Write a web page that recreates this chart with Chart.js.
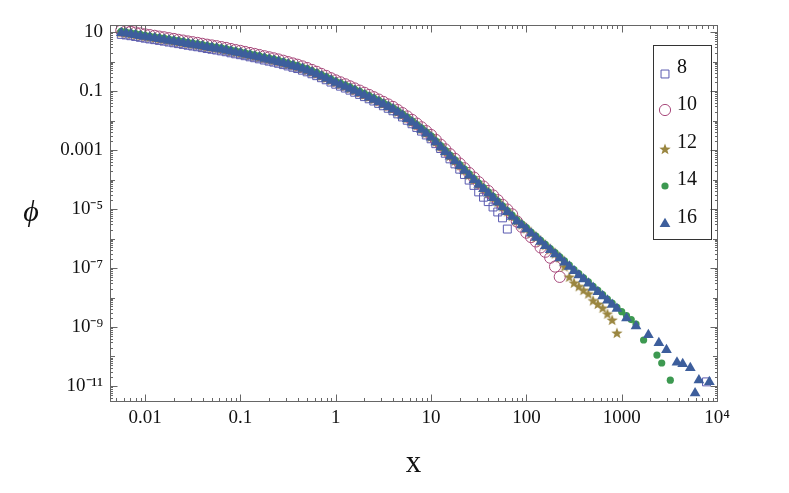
<!DOCTYPE html>
<html>
<head>
<meta charset="utf-8">
<script src="https://cdn.jsdelivr.net/npm/chart.js@4.4.1/dist/chart.umd.min.js"></script>
<style>
  html, body { margin: 0; padding: 0; background: #fff; }
  #c { display: block; }
</style>
</head>
<body>
<canvas id="c" width="789" height="493"></canvas>
<script>
// shared x grid (log bins, 20 per decade)
const xGrid = [0.00562, 0.00631, 0.00708, 0.00794, 0.00891,
    0.01, 0.0112, 0.0126, 0.0141, 0.0158, 0.0178, 0.02, 0.0224, 0.0251, 0.0282,
    0.0316, 0.0355, 0.0398, 0.0447, 0.0501, 0.0562, 0.0631, 0.0708, 0.0794, 0.0891,
    0.1, 0.112, 0.126, 0.141, 0.158, 0.178, 0.2, 0.224, 0.251, 0.282,
    0.316, 0.355, 0.398, 0.447, 0.501, 0.562, 0.631, 0.708, 0.794, 0.891,
    1, 1.12, 1.26, 1.41, 1.58, 1.78, 2, 2.24, 2.51, 2.82,
    3.16, 3.55, 3.98, 4.47, 5.01, 5.62, 6.31, 7.08, 7.94, 8.91,
    10, 11.2, 12.6, 14.1, 15.8, 17.8, 20, 22.4, 25.1, 28.2,
    31.6, 35.5, 39.8, 44.7, 50.1, 56.2, 63.1, 70.8, 79.4, 89.1,
    100, 112, 126, 141, 158, 178, 200, 224, 251, 282,
    316, 355, 398, 447, 501, 562, 631, 708, 794, 891,
    1000, 1122, 1259, 1413];

// L = 8
const phi8 = [8.31, 7.94, 7.49, 7.07, 6.60, 6.17, 5.82, 5.50, 5.19, 4.90,
    4.57, 4.31, 4.03, 3.80, 3.55, 3.35, 3.16, 2.95, 2.75, 2.60,
    2.45, 2.29, 2.14, 1.97, 1.82, 1.70, 1.57, 1.44, 1.34, 1.23,
    1.12, 1.03, 0.953, 0.870, 0.785, 0.707, 0.638, 0.576, 0.507, 0.446,
    0.384, 0.331, 0.282, 0.240, 0.201, 0.170, 0.146, 0.126, 0.107, 0.0909,
    0.0767, 0.0645, 0.0544, 0.0457, 0.0380, 0.0316, 0.0260, 0.0214, 0.0168, 0.0132,
    0.0102, 0.00776, 0.00582, 0.00437, 0.00323, 0.00240, 0.00164, 0.00112, 7.76e-4,
    5.01e-4, 3.39e-4, 2.24e-4, 1.48e-4, 9.55e-5, 6.31e-5, 3.80e-5, 2.51e-5, 1.78e-5, 1.17e-5,
    7.94e-6, 5.01e-6, 2.09e-6];
const tail8X = [7762];
const tail8Y = [1.38e-11];

// L = 10
const phi10 = [11.2, 10.7, 10.1, 9.53, 8.89, 8.30, 7.84, 7.40, 6.98, 6.60,
    6.16, 5.81, 5.42, 5.12, 4.78, 4.51, 4.26, 3.97, 3.71, 3.50,
    3.30, 3.08, 2.88, 2.65, 2.45, 2.29, 2.11, 1.94, 1.80, 1.66,
    1.51, 1.39, 1.28, 1.17, 1.06, 0.953, 0.859, 0.775, 0.683, 0.601,
    0.517, 0.446, 0.379, 0.323, 0.271, 0.229, 0.197, 0.169, 0.144, 0.122,
    0.103, 0.0869, 0.0732, 0.0616, 0.0512, 0.0426, 0.0350, 0.0288, 0.0226, 0.0178,
    0.0137, 0.0105, 0.00784, 0.00588, 0.00436, 0.00323, 0.00221, 0.00151, 1.05e-3, 7.24e-4,
    5.0e-4, 3.46e-4, 2.4e-4, 1.66e-4, 1.16e-4, 8.11e-5, 5.75e-5, 4.07e-5, 2.88e-5, 1.99e-5,
    1.38e-5, 9.53e-6, 6.6e-6, 3.80e-6, 2.51e-6, 1.58e-6, 1.12e-6, 7.94e-7, 5.01e-7, 3.55e-7,
    2.24e-7, 1.12e-7, 5.01e-8];

// L = 12
const phi12 = [9.80, 9.36, 8.83, 8.34, 7.78, 7.27, 6.86, 6.48, 6.11, 5.78,
    5.39, 5.08, 4.75, 4.48, 4.18, 3.95, 3.73, 3.48, 3.24, 3.07,
    2.89, 2.70, 2.52, 2.32, 2.14, 2.01, 1.85, 1.70, 1.58, 1.45,
    1.32, 1.22, 1.12, 1.03, 0.925, 0.834, 0.752, 0.678, 0.597, 0.526,
    0.453, 0.391, 0.332, 0.282, 0.237, 0.201, 0.172, 0.148, 0.126, 0.107,
    0.0904, 0.0760, 0.0641, 0.0539, 0.0448, 0.0373, 0.0307, 0.0252, 0.0197, 0.0155,
    0.0120, 0.00915, 0.00686, 0.00515, 0.00381, 0.00282, 0.00193, 0.00132, 9.15e-4, 6.33e-4,
    4.38e-4, 3.02e-4, 2.10e-4, 1.45e-4, 1.01e-4, 7.10e-5, 5.03e-5, 3.56e-5, 2.52e-5, 1.74e-5,
    1.21e-5, 8.34e-6, 5.78e-6, 3.99e-6, 2.96e-6, 2.19e-6, 1.55e-6, 1.12e-6, 8.15e-7, 5.90e-7,
    4.27e-7, 3.10e-7, 2.25e-7, 1.12e-7, 5.01e-8, 3.16e-8, 2.40e-8, 1.78e-8, 1.35e-8, 7.94e-9,
    6.03e-9, 4.47e-9, 2.82e-9, 1.74e-9, 6.31e-10];

// L = 14
const phi14 = [10.5, 10.0, 9.44, 8.91, 8.31, 7.76, 7.33, 6.92, 6.53, 6.17,
    5.76, 5.43, 5.07, 4.79, 4.47, 4.22, 3.98, 3.71, 3.47, 3.28,
    3.09, 2.88, 2.69, 2.48, 2.29, 2.14, 1.97, 1.82, 1.68, 1.55,
    1.41, 1.30, 1.20, 1.10, 0.988, 0.891, 0.803, 0.725, 0.638, 0.562,
    0.484, 0.417, 0.355, 0.302, 0.254, 0.214, 0.184, 0.158, 0.135, 0.114,
    0.0966, 0.0812, 0.0684, 0.0576, 0.0479, 0.0398, 0.0328, 0.0269, 0.0211, 0.0166,
    0.0128, 0.00977, 0.00733, 0.00550, 0.00407, 0.00302, 0.00206, 0.00141, 9.77e-4, 6.77e-4,
    4.68e-4, 3.23e-4, 2.24e-4, 1.55e-4, 1.08e-4, 7.58e-5, 5.37e-5, 3.80e-5, 2.69e-5, 1.86e-5,
    1.29e-5, 8.91e-6, 6.17e-6, 4.26e-6, 3.16e-6, 2.34e-6, 1.66e-6, 1.20e-6, 8.71e-7, 6.31e-7,
    4.57e-7, 3.31e-7, 2.40e-7, 1.74e-7, 1.26e-7, 8.91e-8, 6.45e-8, 4.68e-8, 3.39e-8, 2.40e-8,
    1.74e-8, 1.26e-8, 8.91e-9, 6.45e-9, 4.68e-9, 3.31e-9, 2.45e-9, 1.78e-9, 1.26e-9];
const tail14X = [1698, 2344, 2630, 3236];
const tail14Y = [3.63e-10, 1.12e-10, 6.03e-11, 1.58e-11];

// L = 16
const phi16 = [9.33, 8.91, 8.41, 7.94, 7.41, 6.92, 6.53, 6.17, 5.82, 5.50,
    5.13, 4.84, 4.52, 4.27, 3.98, 3.76, 3.55, 3.31, 3.09, 2.92,
    2.75, 2.57, 2.40, 2.21, 2.04, 1.91, 1.76, 1.62, 1.50, 1.38,
    1.26, 1.16, 1.07, 0.977, 0.881, 0.794, 0.716, 0.646, 0.569, 0.501,
    0.431, 0.372, 0.316, 0.269, 0.226, 0.191, 0.164, 0.141, 0.120, 0.102,
    0.0861, 0.0724, 0.0610, 0.0513, 0.0427, 0.0355, 0.0292, 0.0240, 0.0188, 0.0148,
    0.0114, 0.00871, 0.00653, 0.00490, 0.00363, 0.00269, 0.00184, 0.00126, 8.71e-4, 6.03e-4,
    4.17e-4, 2.88e-4, 2.0e-4, 1.38e-4, 9.66e-5, 6.76e-5, 4.79e-5, 3.39e-5, 2.40e-5, 1.66e-5,
    1.15e-5, 7.94e-6, 5.50e-6, 3.80e-6, 2.82e-6, 2.09e-6, 1.48e-6, 1.07e-6, 7.76e-7, 5.62e-7,
    4.07e-7, 2.95e-7, 2.14e-7, 1.55e-7, 1.12e-7, 7.94e-8, 5.75e-8, 4.17e-8, 3.02e-8, 2.14e-8,
    1.55e-8, 1.12e-8, 7.94e-9, 5.75e-9, 4.17e-9];
const tail16X = [1122, 1413, 1905, 2455, 2951, 3802, 4365, 5248, 5888, 6457, 8318];
const tail16Y = [2.0e-9, 1.07e-9, 5.37e-10, 2.88e-10, 1.66e-10, 6.3e-11, 5.6e-11, 4.07e-11, 5.75e-12, 1.58e-11, 1.38e-11];

const seriesNames = ['8', '10', '12', '14', '16'];

const xTickVals = [0.01, 0.1, 1, 10, 100, 1000, 10000];
const xTickText = ['0.01', '0.1', '1', '10', '100', '1000', '10\u2074'];
const yTickVals = [10, 0.1, 0.001, 1e-5, 1e-7, 1e-9, 1e-11];
const yTickText = ['10', '0.1', '0.001', '10\u207B\u2075', '10\u207B\u2077', '10\u207B\u2079', '10\u207B\u00B9\u00B9'];

function pts(xs, ys, tx, ty) {
    var out = ys.map(function (y, i) { return { x: xs[i], y: y }; });
    if (tx) {
        tx.forEach(function (x, i) { out.push({ x: x, y: ty[i] }); });
    }
    return out;
}

// filled five point star marker
function makeStar(color) {
    var cv = document.createElement('canvas');
    cv.width = 14; cv.height = 14;
    var g = cv.getContext('2d');
    g.fillStyle = color;
    g.beginPath();
    for (var i = 0; i < 10; i++) {
        var r = i % 2 === 0 ? 6 : 2.5;
        var a = -Math.PI / 2 + i * Math.PI / 5;
        var px = 7 + r * Math.cos(a), py = 7.5 + r * Math.sin(a);
        if (i === 0) g.moveTo(px, py); else g.lineTo(px, py);
    }
    g.closePath();
    g.fill();
    return cv;
}
const starImg = makeStar('#9a8640');

const serif = "'Liberation Serif', 'Times New Roman', serif";

const frame = {
    id: 'frame',
    afterDraw(chart) {
        const ctx = chart.ctx;
        const a = chart.chartArea;
        const xs = chart.scales.x, ys = chart.scales.y;
        const L = Math.round(a.left) + 0.5, R = Math.round(a.right) + 0.5;
        const T = Math.round(a.top) + 0.5, B = Math.round(a.bottom) + 0.5;
        ctx.save();
        ctx.strokeStyle = '#666';
        ctx.lineWidth = 1;
        ctx.strokeRect(L, T, R - L, B - T);

        ctx.beginPath();
        for (let n = -3; n <= 4; n++) {
            for (let m = 1; m <= 9; m++) {
                const v = m * Math.pow(10, n);
                if (v < xs.min || v > xs.max * 1.001) continue;
                const p = Math.round(xs.getPixelForValue(v)) + 0.5;
                const len = m === 1 ? 7 : 3.5;
                ctx.moveTo(p, B); ctx.lineTo(p, B - len);
                ctx.moveTo(p, T); ctx.lineTo(p, T + len);
            }
        }
        for (let n = -12; n <= 1; n++) {
            for (let m = 1; m <= 9; m++) {
                const v = m * Math.pow(10, n);
                if (v < ys.min || v > ys.max) continue;
                const p = Math.round(ys.getPixelForValue(v)) + 0.5;
                let len = 2.5;
                if (m === 1) len = (n % 2 !== 0) ? 7 : 4.5;
                ctx.moveTo(L, p); ctx.lineTo(L + len, p);
                ctx.moveTo(R, p); ctx.lineTo(R - len, p);
            }
        }
        ctx.stroke();

        // axis titles
        ctx.fillStyle = '#111';
        ctx.textAlign = 'center';
        ctx.textBaseline = 'alphabetic';
        ctx.font = '31px ' + serif;
        ctx.fillText('x', (a.left + a.right) / 2, 472);
        ctx.font = 'italic 30px ' + serif;
        ctx.fillText('\u03D5', 31, 221);

        // legend
        ctx.strokeStyle = '#333';
        ctx.strokeRect(653.5, 45.5, 58, 194);
        const rowY = [74, 110, 149, 186, 224];
        const textY = [73, 110, 148, 185, 223];
        chart.data.datasets.forEach(function (ds, i) {
            ctx.fillStyle = ds.backgroundColor;
            ctx.strokeStyle = ds.borderColor;
            ctx.lineWidth = ds.borderWidth;
            Chart.helpers.drawPoint(ctx, {
                pointStyle: ds.pointStyle, radius: ds.pointRadius,
                rotation: 0, borderWidth: ds.borderWidth
            }, 665, rowY[i]);
            ctx.fillStyle = '#111';
            ctx.font = '20px ' + serif;
            ctx.textAlign = 'left';
            ctx.fillText(ds.label, 677, textY[i]);
        });
        ctx.restore();
    }
};

new Chart(document.getElementById('c'), {
    type: 'scatter',
    data: {
        datasets: [
            { label: seriesNames[0], data: pts(xGrid, phi8, tail8X, tail8Y), order: 5,
              pointStyle: 'rect', pointRadius: 5.6, borderColor: '#5a5ab0', backgroundColor: 'rgba(0,0,0,0)', borderWidth: 1 },
            { label: seriesNames[1], data: pts(xGrid, phi10), order: 4,
              pointStyle: 'circle', pointRadius: 5.6, borderColor: '#a84a7c', backgroundColor: 'rgba(0,0,0,0)', borderWidth: 1 },
            { label: seriesNames[2], data: pts(xGrid, phi12), order: 3,
              pointStyle: starImg, pointRadius: 6, borderColor: '#9a8640', backgroundColor: '#9a8640', borderWidth: 0 },
            { label: seriesNames[3], data: pts(xGrid, phi14, tail14X, tail14Y), order: 2,
              pointStyle: 'circle', pointRadius: 3.6, borderColor: '#3d9951', backgroundColor: '#3d9951', borderWidth: 0 },
            { label: seriesNames[4], data: pts(xGrid, phi16, tail16X, tail16Y), order: 1,
              pointStyle: 'triangle', pointRadius: 6.2, borderColor: '#3d5e9c', backgroundColor: '#3d5e9c', borderWidth: 0 }
        ]
    },
    options: {
        responsive: false,
        animation: false,
        devicePixelRatio: 1,
        layout: { padding: { top: 25, right: 72, left: 0, bottom: 0 } },
        plugins: { legend: { display: false }, tooltip: { enabled: false } },
        elements: { point: { hoverRadius: 6 } },
        scales: {
            x: {
                type: 'logarithmic',
                min: 0.00428, max: 10000,
                grid: { display: false, drawTicks: false },
                border: { display: false },
                afterBuildTicks: function (s) { s.ticks = xTickVals.map(function (v) { return { value: v }; }); },
                afterFit: function (s) { s.height = 92; },
                ticks: {
                    autoSkip: false, maxRotation: 0, padding: 6, color: '#111',
                    font: { family: serif, size: 19 },
                    callback: function (v, i) { return xTickText[i]; }
                }
            },
            y: {
                type: 'logarithmic',
                min: 3.1e-12, max: 17.3,
                grid: { display: false, drawTicks: false },
                border: { display: false },
                afterBuildTicks: function (s) { s.ticks = yTickVals.map(function (v) { return { value: v }; }); },
                afterFit: function (s) { s.width = 110; },
                ticks: {
                    autoSkip: false, padding: 7, color: '#111',
                    font: { family: serif, size: 19 },
                    callback: function (v, i) { return yTickText[i]; }
                }
            }
        }
    },
    plugins: [frame]
});
</script>
</body>
</html>
